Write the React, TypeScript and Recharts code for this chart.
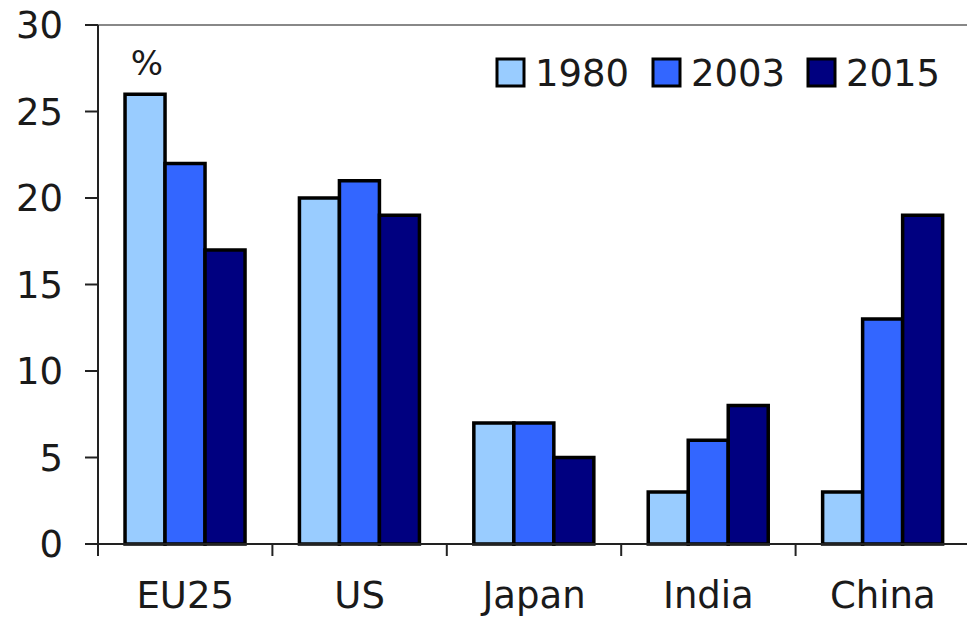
import React from 'react';
import { BarChart, Bar, XAxis, YAxis, ReferenceLine, Customized } from 'recharts';

const categories = ['EU25', 'US', 'Japan', 'India', 'China'];
const s1980 = [26, 20, 7, 3, 3];
const s2003 = [22, 21, 7, 6, 13];
const s2015 = [17, 19, 5, 8, 19];
const yTicks = [0, 5, 10, 15, 20, 25, 30];
const seriesNames = ['1980', '2003', '2015'];
const colors = ['#99CCFF', '#3366FF', '#000080'];

const data = categories.map((c, i) => ({ name: c, '1980': s1980[i], '2003': s2003[i], '2015': s2015[i] }));

const FONT = '"DejaVu Sans", Verdana, sans-serif';
const W = 967;
const H = 619;
const LEFT = 98;
const RIGHT_MARGIN = -3;
const BAND = (W - LEFT - RIGHT_MARGIN) / categories.length;

const XTick = (props: any) => {
  const { x, y, payload, index } = props;
  const axisY = y - 2;
  const left = x - BAND / 2;
  return (
    <g>
      <line x1={left} y1={axisY} x2={left} y2={axisY + 12} stroke="#222" strokeWidth={2} />
      {index === categories.length - 1 ? (
        <line x1={x + BAND / 2} y1={axisY} x2={x + BAND / 2} y2={axisY + 12} stroke="#222" strokeWidth={2} />
      ) : null}
      <text x={x} y={axisY + 64} textAnchor="middle" fontFamily={FONT} fontSize={37} fill="#1a1a1a">
        {payload.value}
      </text>
    </g>
  );
};

const LegendBox = () => (
  <g>
    {seriesNames.map((n, i) => {
      const x0 = [497, 653, 808][i];
      return (
        <g key={n}>
          <rect x={x0} y={59} width={27} height={27} fill={colors[i]} stroke="#000" strokeWidth={3} />
          <text x={x0 + 38} y={86} fontFamily={FONT} fontSize={37} fill="#1a1a1a">{n}</text>
        </g>
      );
    })}
    <text x={147} y={75} textAnchor="middle" fontFamily={FONT} fontSize={34} fill="#1a1a1a">%</text>
  </g>
);

export default function App() {
  return (
    <div style={{ position: 'absolute', left: 0, top: 0, width: W, height: H, background: '#fff', overflow: 'hidden' }}>
      <BarChart
        width={W}
        height={H}
        data={data}
        margin={{ top: 25, right: RIGHT_MARGIN, left: 0, bottom: 0 }}
        barCategoryGap="15.5%"
        barGap={0}
      >
        <ReferenceLine y={30} stroke="#888" strokeWidth={2} />
        <XAxis
          dataKey="name"
          height={75}
          tickLine={false}
          axisLine={{ stroke: '#222', strokeWidth: 2 }}
          tick={<XTick />}
          interval={0}
          tickSize={0}
          tickMargin={2}
        />
        <YAxis
          width={LEFT}
          domain={[0, 30]}
          ticks={yTicks}
          interval={0}
          tickSize={13}
          tickMargin={22}
          tickLine={{ stroke: '#222', strokeWidth: 2 }}
          axisLine={{ stroke: '#222', strokeWidth: 2 }}
          tick={{ fontFamily: FONT, fontSize: 37, fill: '#1a1a1a' }}
        />
        {seriesNames.map((n, i) => (
          <Bar key={n} dataKey={n} fill={colors[i]} stroke="#000" strokeWidth={3.5} isAnimationActive={false} />
        ))}
        <Customized component={LegendBox} />
      </BarChart>
    </div>
  );
}
